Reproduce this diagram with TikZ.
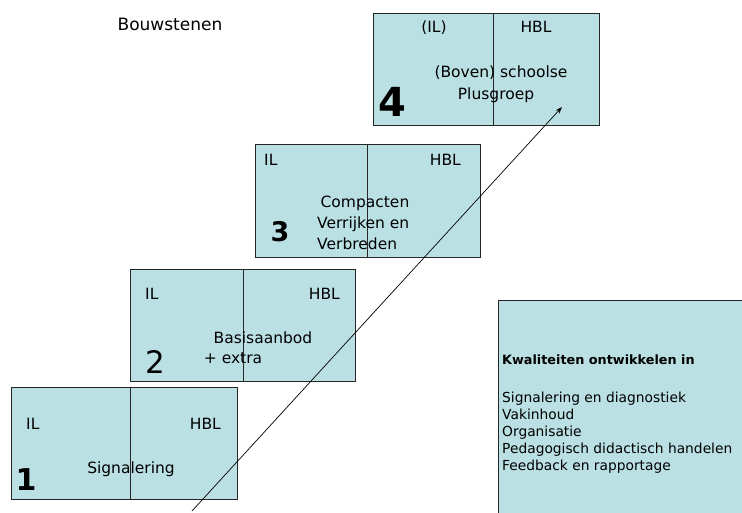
\documentclass[tikz,border=0pt]{standalone}
\usepackage{fontspec}
\setmainfont{DejaVu Sans}
\usetikzlibrary{arrows.meta,calc}
\definecolor{boxfill}{HTML}{BAE0E4}
\tikzset{
  blok/.style={draw=black!85, line width=0.8pt, fill=boxfill, rectangle, anchor=north west, inner sep=0pt},
  divider/.style={draw=black!85, line width=0.7pt},
  lbl/.style={inner sep=0pt, font=\fontsize{15.5}{17}\selectfont},
  num/.style={inner sep=0pt, anchor=base, font=\bfseries},
  listtxt/.style={inner sep=0pt, anchor=base west, font=\fontsize{13.8}{17}\selectfont},
  pijl/.style={draw=black, line width=0.7pt, -{Stealth[length=7pt,width=5pt]}}
}
\begin{document}
\begin{tikzpicture}[x=1pt,y=-1pt]
\useasboundingbox (0,0) rectangle (742,513);
\fill[white] (0,0) rectangle (742,513);
% title
\node[inner sep=0pt, anchor=base, font=\fontsize{17}{20}\selectfont] (title) at (170,31) {Bouwstenen};
% boxes
\node[blok, minimum width=226pt, minimum height=112pt] (b1) at (11,387) {};
\node[blok, minimum width=225pt, minimum height=112pt] (b2) at (130,269) {};
\node[blok, minimum width=225pt, minimum height=113pt] (b3) at (255,144) {};
\node[blok, minimum width=226pt, minimum height=112pt] (b4) at (373,13) {};
\node[blok, minimum width=250pt, minimum height=220pt] (kw) at (498,300) {};
% dividers
\draw[divider] ($(b1.north west)+(119,0)$) -- ($(b1.south west)+(119,0)$);
\draw[divider] ($(b2.north west)+(113,0)$) -- ($(b2.south west)+(113,0)$);
\draw[divider] ($(b3.north west)+(112,0)$) -- ($(b3.south west)+(112,0)$);
\draw[divider] ($(b4.north west)+(120,0)$) -- ($(b4.south west)+(120,0)$);
% box 1
\node[lbl, anchor=base west] (b1il) at (26,429) {IL};
\node[lbl, anchor=base east] (b1hbl) at (221,429) {HBL};
\node[lbl, anchor=base] (b1t) at (131,473) {Signalering};
\node[num, font=\bfseries\fontsize{30}{30}\selectfont] (n1) at (26,490) {1};
% box 2
\node[lbl, anchor=base west] (b2il) at (145,300) {IL};
\node[lbl, anchor=base east] (b2hbl) at (340,300) {HBL};
\node[lbl, anchor=base] (b2t) at (263,343) {Basisaanbod};
\node[lbl, anchor=base] (b2u) at (233,363) {+ extra};
\node[num, font=\fontsize{31}{31}\selectfont] (n2) at (155,373) {2};
% box 3
\node[lbl, anchor=base west] (b3il) at (264,166) {IL};
\node[lbl, anchor=base east] (b3hbl) at (461,166) {HBL};
\node[lbl, anchor=base] (b3t) at (365,208) {Compacten};
\node[lbl, anchor=base west] (b3u) at (317,229) {Verrijken en};
\node[lbl, anchor=base west] (b3v) at (317,250) {Verbreden};
\node[num, font=\bfseries\fontsize{27}{27}\selectfont] (n3) at (280,242) {3};
% box 4
\node[lbl, anchor=base] (b4il) at (434,33) {(IL)};
\node[lbl, anchor=base] (b4hbl) at (536,33) {HBL};
\node[lbl, anchor=base] (b4t) at (501,78) {(Boven) schoolse};
\node[lbl, anchor=base] (b4u) at (496,100) {Plusgroep};
\node[num, font=\bfseries\fontsize{40}{40}\selectfont] (n4) at (392,117) {4};
% right box text
\node[listtxt, font=\bfseries\fontsize{12.8}{17}\selectfont] (kwt) at (502,364) {Kwaliteiten ontwikkelen in};
\node[listtxt] (kw1) at (502,402) {Signalering en diagnostiek};
\node[listtxt] (kw2) at (502,419) {Vakinhoud};
\node[listtxt] (kw3) at (502,436) {Organisatie};
\node[listtxt] (kw4) at (502,453) {Pedagogisch didactisch handelen};
\node[listtxt] (kw5) at (502,470) {Feedback en rapportage};
% arrow
\coordinate (pstart) at (192,511);
\coordinate (pend) at (562,107);
\draw[pijl] (pstart) -- (pend);
\end{tikzpicture}
\end{document}
